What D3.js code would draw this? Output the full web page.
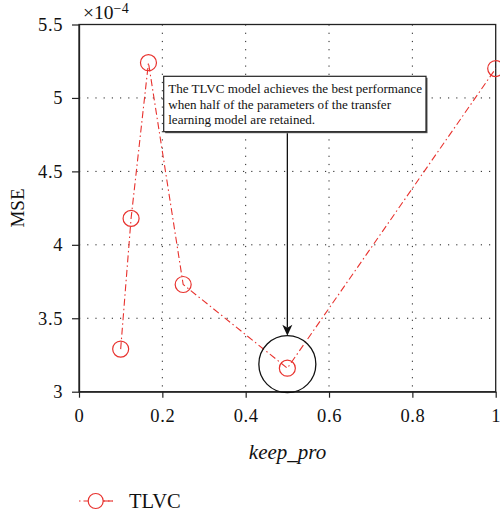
<!DOCTYPE html>
<html><head><meta charset="utf-8">
<script src="https://cdn.jsdelivr.net/npm/d3@7"></script>
<style>body{margin:0;background:#fff}svg{display:block}text{font-family:"Liberation Serif","DejaVu Serif",serif;fill:#111}</style>
</head><body><svg id="c" width="500" height="518"></svg>
<script>
const keepPro = [0.1, 0.125, 0.1667, 0.25, 0.5, 1.0];
const mse = [3.29, 4.18, 5.24, 3.73, 3.16, 5.20];
const xTicks = [0, 0.2, 0.4, 0.6, 0.8, 1];
const yTicks = [3, 3.5, 4, 4.5, 5, 5.5];
const seriesName = "TLVC";
const noteLines = ["The TLVC model achieves the best performance","when half of the parameters of the transfer","learning model are retained."];
const highlightIndex = 4;

const svg = d3.select("#c");
const m = {l:79, r:495.7, t:24.5, b:391.7};
const x = d3.scaleLinear().domain([0,1]).range([m.l, m.r]);
const y = d3.scaleLinear().domain([3,5.5]).range([m.b, m.t]);
const red = "#e8322e";
const serif = "'Liberation Serif', 'DejaVu Serif', serif";

const g = svg.append("g");
g.selectAll(".gx").data(xTicks.filter(d=>d>0&&d<1)).join("line")
  .attr("x1",d=>x(d)).attr("x2",d=>x(d)).attr("y1",m.t).attr("y2",m.b)
  .attr("stroke","#222").attr("stroke-width",1).attr("stroke-dasharray","1.2,7");
g.selectAll(".gy").data(yTicks.filter(d=>d>3&&d<5.5)).join("line")
  .attr("y1",d=>y(d)).attr("y2",d=>y(d)).attr("x1",m.l).attr("x2",m.r)
  .attr("stroke","#222").attr("stroke-width",1).attr("stroke-dasharray","1.2,7");

svg.append("rect").attr("x",m.l).attr("y",m.t).attr("width",m.r-m.l).attr("height",m.b-m.t)
  .attr("fill","none").attr("stroke","#222").attr("stroke-width",1.3);

const xa = svg.append("g").attr("transform",`translate(0,${m.b})`)
  .call(d3.axisBottom(x).tickValues(xTicks).tickFormat(d3.format("~g")).tickSizeOuter(0).tickSizeInner(6).tickPadding(11));
const ya = svg.append("g").attr("transform",`translate(${m.l},0)`)
  .call(d3.axisLeft(y).tickValues(yTicks).tickFormat(d3.format("~g")).tickSizeOuter(0).tickSizeInner(7).tickPadding(9));
[xa,ya].forEach(a=>{
  a.attr("font-family",serif);
  a.select(".domain").attr("stroke","#222").attr("stroke-width",1.3);
  a.selectAll(".tick line").attr("stroke","#222").attr("stroke-width",1.2);
  a.selectAll("text").style("font-family",serif).style("font-size","18.5px").style("letter-spacing","0.6px").attr("fill","#111");
});

const ex = svg.append("text").attr("x",83).attr("y",19).style("font-size","19.5px");
ex.append("tspan").text("×10");
ex.append("tspan").attr("dy",-6).style("font-size","14px").attr("letter-spacing","0.4px").text("−4");

svg.append("text").attr("transform","translate(24,208) rotate(-90)").attr("text-anchor","middle")
  .style("font-size","19px").text("MSE");
svg.append("text").attr("x",287.5).attr("y",459).attr("text-anchor","middle")
  .style("font-size","21px").style("font-style","italic").text("keep_pro");

const line = d3.line().x((d,i)=>x(keepPro[i])).y(d=>y(d));
svg.append("path").datum(mse).attr("d",line).attr("fill","none")
  .attr("stroke",red).attr("stroke-width",1.1).attr("stroke-dasharray","7,3,1.5,3");
svg.selectAll(".pt").data(mse).join("circle")
  .attr("cx",(d,i)=>x(keepPro[i])).attr("cy",d=>y(d)).attr("r",8)
  .attr("fill","none").attr("stroke",red).attr("stroke-width",1.2);

const hx = x(keepPro[highlightIndex]), hy = y(mse[highlightIndex]) - 4;
svg.append("circle").attr("cx",hx).attr("cy",hy).attr("r",28.5)
  .attr("fill","none").attr("stroke","#111").attr("stroke-width",1.3);

const bx=163.7, by=76.3, bw=262.3, bh=55.4;
svg.append("rect").attr("x",bx+1.5).attr("y",by+1.5).attr("width",bw).attr("height",bh).attr("fill","#555");
svg.append("rect").attr("x",bx).attr("y",by).attr("width",bw).attr("height",bh)
  .attr("fill","#fff").attr("stroke","#222").attr("stroke-width",1.2);
svg.append("g").selectAll("text").data(noteLines).join("text")
  .attr("x",bx+4.5).attr("y",(d,i)=>by+16.8+i*15.6).style("font-size","13.1px").text(d=>d);

svg.append("line").attr("x1",hx).attr("x2",hx).attr("y1",by+bh+1.5).attr("y2",hy-28.5-8)
  .attr("stroke","#111").attr("stroke-width",1.3);
svg.append("path").attr("d",`M${hx-5},${hy-28.5-11} L${hx},${hy-28.5} L${hx+5},${hy-28.5-11} L${hx},${hy-28.5-8} Z`).attr("fill","#111");

const ly = 501;
svg.append("line").attr("x1",79).attr("x2",113).attr("y1",ly).attr("y2",ly)
  .attr("stroke",red).attr("stroke-width",1.1).attr("stroke-dasharray","1.5,3,7,3");
svg.append("circle").attr("cx",95.7).attr("cy",ly).attr("r",7.5).attr("fill","#fff").attr("stroke",red).attr("stroke-width",1.2);
svg.append("line").attr("x1",103.2).attr("x2",113).attr("y1",ly).attr("y2",ly).attr("stroke",red).attr("stroke-width",1.1);
svg.append("text").attr("x",129).attr("y",508).style("font-size","20.5px").text(seriesName);
</script></body></html>
